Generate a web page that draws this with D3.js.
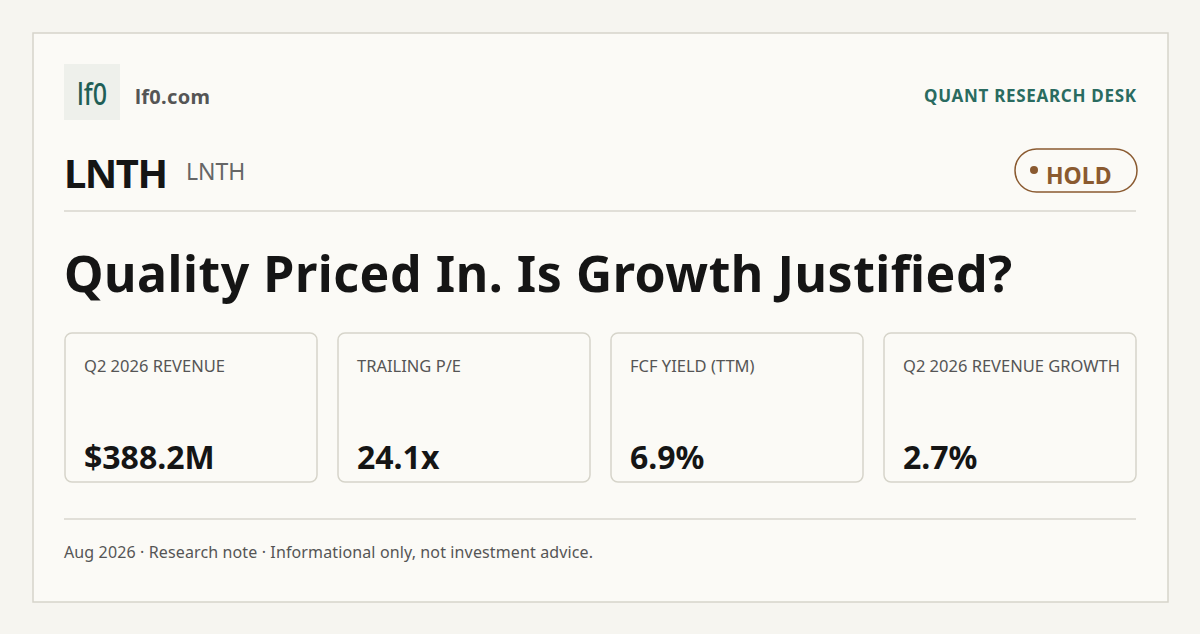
<!DOCTYPE html>
<html lang="en">
<head>
  <meta charset="UTF-8">
  <script src="https://cdn.jsdelivr.net/npm/d3@7"></script>
  <style>
    body { margin: 0; background: #f6f5f0; }
    text { font-family: "Noto Sans", "Open Sans", sans-serif; }
  </style>
</head>
<body>
  <script>
    // card content
    const metricLabels = ["Q2 2026 REVENUE", "TRAILING P/E", "FCF YIELD (TTM)", "Q2 2026 REVENUE GROWTH"];
    const metricValues = ["$388.2M", "24.1x", "6.9%", "2.7%"];
    const ticker = "LNTH";
    const rating = "HOLD";
    const headline = "Quality Priced In. Is Growth Justified?";
    const footer = "Aug 2026 · Research note · Informational only, not investment advice.";

    const width = 1200, height = 634;
    const svg = d3.select("body").append("svg")
      .attr("width", width).attr("height", height);

    svg.append("rect").attr("width", width).attr("height", height).attr("fill", "#f6f5f0");
    svg.append("rect").attr("x", 33).attr("y", 33).attr("width", 1135).attr("height", 569)
      .attr("fill", "#fbfaf6").attr("stroke", "#d6d4ca").attr("stroke-width", 1.5);

    // header
    svg.append("rect").attr("x", 64).attr("y", 64).attr("width", 56).attr("height", 56).attr("fill", "#eef0eb");
    svg.append("text").attr("x", 92).attr("y", 105).attr("text-anchor", "middle")
      .attr("font-size", 30).attr("font-weight", 500).attr("fill", "#1f5f57").attr("textLength", 30)
      .attr("lengthAdjust", "spacingAndGlyphs").text("lf0");
    svg.append("text").attr("x", 135).attr("y", 104).attr("font-size", 20).attr("font-weight", 700)
      .attr("fill", "#555").attr("textLength", 75).text("lf0.com");
    svg.append("text").attr("x", 1136).attr("y", 102).attr("text-anchor", "end")
      .attr("font-size", 17).attr("font-weight", 700).attr("fill", "#2a6b60")
      .attr("textLength", 212).text("QUANT RESEARCH DESK");

    svg.append("text").attr("x", 64).attr("y", 188).attr("font-size", 40).attr("font-weight", 700)
      .attr("fill", "#151515").attr("textLength", 104).text(ticker);
    svg.append("text").attr("x", 186).attr("y", 180).attr("font-size", 23)
      .attr("fill", "#666").text(ticker);

    const pill = svg.append("g");
    pill.append("rect").attr("x", 1015).attr("y", 149).attr("width", 122).attr("height", 43).attr("rx", 21.5)
      .attr("fill", "none").attr("stroke", "#8a5a30").attr("stroke-width", 1.5);
    pill.append("circle").attr("cx", 1034).attr("cy", 170).attr("r", 4).attr("fill", "#8a5a30");
    pill.append("text").attr("x", 1046).attr("y", 184).attr("font-size", 23).attr("font-weight", 700)
      .attr("fill", "#8a5a30").text(rating);

    svg.append("line").attr("x1", 64).attr("x2", 1136).attr("y1", 211).attr("y2", 211)
      .attr("stroke", "#d8d6ce").attr("stroke-width", 1.5);

    svg.append("text").attr("x", 64).attr("y", 292).attr("font-size", 50).attr("font-weight", 700)
      .attr("fill", "#151515").attr("textLength", 948).text(headline);

    // metric cards
    const xScale = d3.scaleBand().domain(d3.range(metricLabels.length))
      .range([65, 1136]).paddingInner(21 / 273).paddingOuter(0);
    const cards = svg.selectAll("g.card").data(metricLabels).enter().append("g")
      .attr("class", "card").attr("transform", (d, i) => `translate(${xScale(i)},333)`);
    cards.append("rect").attr("width", xScale.bandwidth()).attr("height", 149).attr("rx", 7)
      .attr("fill", "#fbfaf6").attr("stroke", "#d6d4ca").attr("stroke-width", 1.5);
    cards.append("text").attr("x", 19).attr("y", 39).attr("font-size", 16.5).attr("fill", "#555").text(d => d);
    cards.append("text").attr("x", 19).attr("y", 136).attr("font-size", 32).attr("font-weight", 700)
      .attr("fill", "#151515").text((d, i) => metricValues[i]);

    svg.append("line").attr("x1", 64).attr("x2", 1136).attr("y1", 519).attr("y2", 519)
      .attr("stroke", "#d8d6ce").attr("stroke-width", 1.5);
    svg.append("text").attr("x", 64).attr("y", 558).attr("font-size", 16).attr("fill", "#555")
      .attr("textLength", 529).text(footer);
  </script>
</body>
</html>
